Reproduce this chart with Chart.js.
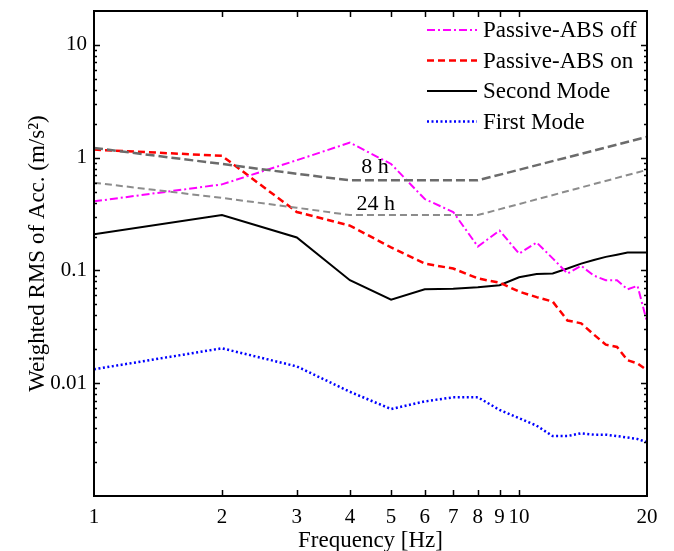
<!DOCTYPE html>
<html>
<head>
<meta charset="utf-8">
<script src="https://cdn.jsdelivr.net/npm/chart.js@4.4.1/dist/chart.umd.min.js"></script>
<style>
  html, body { margin: 0; padding: 0; background: #fff; }
  #wrap { width: 674px; height: 551px; }
</style>
</head>
<body>
<div id="wrap"><canvas id="chart" width="674" height="551"></canvas></div>
<script>
// frequency bands (Hz)
const freq = [1, 2, 3, 4, 5, 6, 7, 8, 9, 10, 11, 12, 13, 14, 15, 16, 17, 18, 19, 20];

// weighted RMS acceleration (m/s^2)
const absOff     = [0.41, 0.58, 0.95, 1.36, 0.88, 0.43, 0.33, 0.163, 0.226, 0.141, 0.177, 0.128, 0.094, 0.11, 0.09, 0.082, 0.082, 0.068, 0.073, 0.035];
const absOn      = [1.18, 1.04, 0.33, 0.25, 0.16, 0.115, 0.104, 0.085, 0.078, 0.065, 0.058, 0.053, 0.036, 0.034, 0.027, 0.022, 0.021, 0.016, 0.015, 0.013];
const secondMode = [0.21, 0.31, 0.196, 0.082, 0.055, 0.068, 0.069, 0.071, 0.074, 0.087, 0.093, 0.094, 0.104, 0.115, 0.124, 0.132, 0.138, 0.144, 0.144, 0.144];
const firstMode  = [0.0133, 0.0204, 0.0141, 0.0084, 0.0059, 0.0069, 0.0075, 0.0075, 0.0058, 0.0049, 0.0042, 0.0034, 0.0034, 0.0036, 0.0035, 0.0035, 0.0034, 0.0033, 0.0032, 0.003];

// exposure limit curves
const limitFreq = [1, 2, 3, 4, 8, 20];
const limit8h   = [1.22, 0.88, 0.72, 0.63, 0.63, 1.53];
const limit24h  = [0.60, 0.44, 0.36, 0.31, 0.31, 0.78];

// axis ticks
const xTicks = [1, 2, 3, 4, 5, 6, 7, 8, 9, 10, 20];
const yMajor = [0.01, 0.1, 1, 10];
const yMinor = [0.002, 0.003, 0.004, 0.005, 0.006, 0.007, 0.008, 0.009,
                0.02, 0.03, 0.04, 0.05, 0.06, 0.07, 0.08, 0.09,
                0.2, 0.3, 0.4, 0.5, 0.6, 0.7, 0.8, 0.9,
                2, 3, 4, 5, 6, 7, 8, 9, 20];

// limit curve labels: [text, freq, value]
const limitLabels = [['8 h', 4.58, 0.82], ['24 h', 4.6, 0.39]];

const FONT = '"Liberation Serif", "Times New Roman", serif';

function pts(xs, ys) {
    return xs.map((x, i) => ({ x: x, y: ys[i] }));
}

// box, inward ticks, limit labels and legend
const framePlugin = {
    id: 'frame',
    afterDatasetsDraw(chart) {
        const ctx = chart.ctx;
        const a = chart.chartArea;
        const xs = chart.scales.x, ys = chart.scales.y;
        ctx.save();
        ctx.strokeStyle = '#000';
        ctx.lineWidth = 2;
        ctx.setLineDash([]);
        ctx.strokeRect(a.left, a.top, a.right - a.left, a.bottom - a.top);

        ctx.lineWidth = 1.5;
        ctx.beginPath();
        xTicks.forEach(t => {
            const px = Math.round(xs.getPixelForValue(t)) + 0.5;
            if (px <= a.left + 1 || px >= a.right - 1) return;
            ctx.moveTo(px, a.bottom); ctx.lineTo(px, a.bottom - 6);
            ctx.moveTo(px, a.top); ctx.lineTo(px, a.top + 6);
        });
        yMajor.forEach(t => {
            const py = Math.round(ys.getPixelForValue(t)) + 0.5;
            ctx.moveTo(a.left, py); ctx.lineTo(a.left + 6, py);
            ctx.moveTo(a.right, py); ctx.lineTo(a.right - 6, py);
        });
        yMinor.forEach(t => {
            const py = Math.round(ys.getPixelForValue(t)) + 0.5;
            if (py <= a.top + 1) return;
            ctx.moveTo(a.left, py); ctx.lineTo(a.left + 3, py);
            ctx.moveTo(a.right, py); ctx.lineTo(a.right - 3, py);
        });
        ctx.stroke();

        ctx.fillStyle = '#000';
        ctx.font = '22px ' + FONT;
        ctx.textAlign = 'center';
        ctx.textBaseline = 'middle';
        limitLabels.forEach(([txt, f, v]) => {
            ctx.fillText(txt, xs.getPixelForValue(f), ys.getPixelForValue(v));
        });

        // legend inside the plot, top right
        const items = chart.data.datasets.filter(d => d.inLegend);
        ctx.textAlign = 'left';
        ctx.font = '23px ' + FONT;
        items.forEach((d, i) => {
            const y = a.top + 19 + i * 30.5;
            ctx.strokeStyle = d.borderColor;
            ctx.lineWidth = d.borderWidth;
            ctx.setLineDash(d.borderDash || []);
            ctx.beginPath();
            ctx.moveTo(a.right - 220, y);
            ctx.lineTo(a.right - 170, y);
            ctx.stroke();
            ctx.fillStyle = '#000';
            ctx.fillText(d.label, a.right - 164, y + 1);
        });
        ctx.restore();
    }
};

new Chart(document.getElementById('chart'), {
    type: 'line',
    data: {
        datasets: [
            { label: '8 h', data: pts(limitFreq, limit8h), borderColor: '#6b6b6b', borderWidth: 2.5, borderDash: [9, 4] },
            { label: '24 h', data: pts(limitFreq, limit24h), borderColor: '#8c8c8c', borderWidth: 2, borderDash: [7, 4] },
            { label: 'Passive-ABS off', inLegend: true, data: pts(freq, absOff), borderColor: '#ff00ff', borderWidth: 2, borderDash: [8, 3, 2, 3] },
            { label: 'Passive-ABS on', inLegend: true, data: pts(freq, absOn), borderColor: '#ff0000', borderWidth: 2.5, borderDash: [7, 4] },
            { label: 'Second Mode', inLegend: true, data: pts(freq, secondMode), borderColor: '#000000', borderWidth: 2 },
            { label: 'First Mode', inLegend: true, data: pts(freq, firstMode), borderColor: '#0000ff', borderWidth: 2.5, borderDash: [2, 2.5] }
        ]
    },
    options: {
        responsive: false,
        animation: false,
        layout: { padding: { left: 0, right: 27, top: 11, bottom: 0 } },
        elements: { point: { radius: 0 }, line: { tension: 0, fill: false } },
        plugins: { legend: { display: false }, tooltip: { enabled: false } },
        scales: {
            x: {
                type: 'logarithmic',
                min: 1, max: 20,
                afterBuildTicks: s => { s.ticks = xTicks.map(v => ({ value: v })); },
                afterFit: s => { s.height = 55; s.paddingLeft = 0; s.paddingRight = 0; },
                grid: { display: false, drawTicks: false },
                border: { display: false },
                ticks: {
                    autoSkip: false, maxRotation: 0, padding: 9,
                    color: '#000', font: { family: FONT, size: 21 },
                    callback: v => String(v)
                },
                title: { display: true, text: 'Frequency [Hz]', color: '#000', font: { family: FONT, size: 23, lineHeight: 0.9 }, padding: { top: 0, bottom: 0 } }
            },
            y: {
                type: 'logarithmic',
                min: 0.001, max: 20,
                afterBuildTicks: s => { s.ticks = yMajor.map(v => ({ value: v })); },
                afterFit: s => { s.width = 94; s.paddingTop = 0; s.paddingBottom = 0; },
                grid: { display: false, drawTicks: false },
                border: { display: false },
                ticks: {
                    autoSkip: false, padding: 7,
                    color: '#000', font: { family: FONT, size: 21 },
                    callback: v => String(v)
                },
                title: { display: true, text: 'Weighted RMS of Acc. (m/s²)', color: '#000', font: { family: FONT, size: 23 }, padding: { top: 24, bottom: 0 } }
            }
        }
    },
    plugins: [framePlugin]
});
</script>
</body>
</html>
